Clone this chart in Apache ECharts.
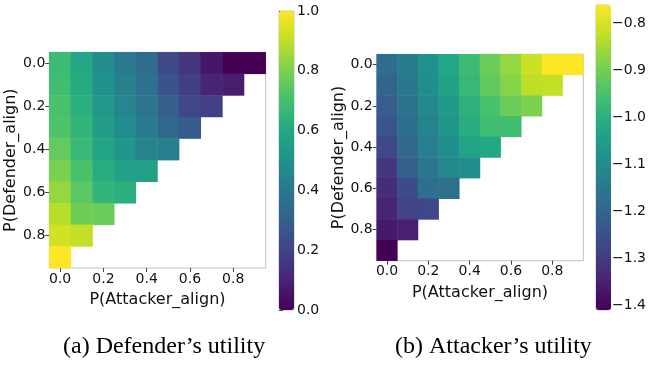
<!DOCTYPE html>
<html>
<head>
<meta charset="utf-8">
<script src="https://cdn.jsdelivr.net/npm/echarts@6/dist/echarts.min.js"></script>
<style>
  html, body { margin: 0; padding: 0; background: #fff; }
  #main { width: 649px; height: 369px; }
</style>
</head>
<body>
<div id="main"></div>
<script>
// axis categories (P = 0.0 .. 0.9)
const attackerAlign = ['0.0', '0.1', '0.2', '0.3', '0.4', '0.5', '0.6', '0.7', '0.8', '0.9']
const defenderAlign = ['0.0', '0.1', '0.2', '0.3', '0.4', '0.5', '0.6', '0.7', '0.8', '0.9']

// defender's utility, one row per P(Defender_align), cells along P(Attacker_align)
const defenderUtility = [
  [0.68, 0.60, 0.48, 0.41, 0.35, 0.22, 0.15, 0.06, 0.00, 0.00],
  [0.69, 0.61, 0.50, 0.43, 0.37, 0.25, 0.18, 0.10, 0.08],
  [0.71, 0.63, 0.53, 0.46, 0.39, 0.30, 0.21, 0.19],
  [0.72, 0.65, 0.55, 0.48, 0.41, 0.33, 0.29],
  [0.76, 0.67, 0.58, 0.52, 0.44, 0.43],
  [0.80, 0.71, 0.62, 0.57, 0.56],
  [0.84, 0.74, 0.65, 0.63],
  [0.89, 0.78, 0.77],
  [0.93, 0.91],
  [1.00]
]

// attacker's utility
const attackerUtility = [
  [-1.183, -1.144, -1.086, -1.021, -0.970, -0.910, -0.866, -0.814, -0.762, -0.762],
  [-1.200, -1.150, -1.100, -1.040, -0.980, -0.920, -0.880, -0.827, -0.820],
  [-1.220, -1.164, -1.110, -1.060, -0.995, -0.950, -0.910, -0.890],
  [-1.240, -1.177, -1.125, -1.073, -1.008, -0.963, -0.963],
  [-1.274, -1.190, -1.138, -1.093, -1.034, -1.020],
  [-1.306, -1.216, -1.157, -1.110, -1.099],
  [-1.326, -1.260, -1.177, -1.170],
  [-1.345, -1.280, -1.274],
  [-1.365, -1.352],
  [-1.410]
]

const defTicks = [0.0, 0.2, 0.4, 0.6, 0.8, 1.0]
const attTicks = [-1.4, -1.3, -1.2, -1.1, -1.0, -0.9, -0.8]
const defRange = [0, 1]
const attRange = [-1.41, -0.762]

const viridis = ['#440154', '#482475', '#414487', '#355f8d', '#2a788e', '#21918c',
  '#22a884', '#44bf70', '#7ad151', '#bddf26', '#fde725']

function toCells (rows) {
  const out = []
  rows.forEach((row, y) => {
    row.forEach((v, x) => out.push([x, y, v]))
  })
  return out
}

const fmtMinus = v => (v < 0 ? '\u2212' + Math.abs(v).toFixed(1) : v.toFixed(1))

const tickFont = { fontFamily: 'DejaVu Sans', fontSize: 14, color: '#111' }
const nameFont = { fontFamily: 'DejaVu Sans', fontSize: 16, color: '#111' }

function catAxis (data, extra) {
  return Object.assign({
    type: 'category',
    data: data,
    axisLine: { show: false },
    axisTick: { show: true, alignWithLabel: true, interval: 1, length: 4, lineStyle: { color: '#444' } },
    axisLabel: Object.assign({ interval: 1, margin: 4 }, tickFont),
    splitLine: { show: false },
    nameLocation: 'middle',
    nameTextStyle: nameFont
  }, extra)
}

function barAxis (range, ticks, gridIndex) {
  return {
    type: 'value',
    gridIndex: gridIndex,
    position: 'right',
    min: range[0],
    max: range[1],
    axisLine: { show: false },
    splitLine: { show: false },
    axisTick: { show: true, length: 4, customValues: ticks, lineStyle: { color: '#444' } },
    axisLabel: Object.assign({ customValues: ticks, margin: 3, formatter: fmtMinus }, tickFont)
  }
}

const gridLeft = { left: 49.3, top: 52.3, width: 216.4, height: 215.7 }
const gridRight = { left: 376.7, top: 54.3, width: 206.6, height: 206.4 }
const cbLeft = { left: 279, top: 11, width: 15, height: 299 }
const cbRight = { left: 596, top: 5, width: 15, height: 305 }

const frame = { show: true, borderColor: '#c0c0c0', borderWidth: 1, backgroundColor: 'transparent' }

const option = {
  animation: false,
  grid: [
    Object.assign({}, gridLeft, frame),
    Object.assign({}, gridRight, frame),
    Object.assign({}, cbLeft, frame),
    Object.assign({}, cbRight, frame)
  ],
  xAxis: [
    catAxis(attackerAlign, { gridIndex: 0, name: 'P(Attacker_align)', nameGap: 24 }),
    catAxis(attackerAlign, { gridIndex: 1, name: 'P(Attacker_align)', nameGap: 24 }),
    { type: 'value', gridIndex: 2, show: false, min: 0, max: 1 },
    { type: 'value', gridIndex: 3, show: false, min: 0, max: 1 }
  ],
  yAxis: [
    catAxis(defenderAlign, { gridIndex: 0, inverse: true, name: 'P(Defender_align)', nameGap: 26 }),
    catAxis(defenderAlign, { gridIndex: 1, inverse: true, name: 'P(Defender_align)', nameGap: 26 }),
    barAxis(defRange, defTicks, 2),
    barAxis(attRange, attTicks, 3)
  ],
  visualMap: [
    {
      type: 'continuous',
      seriesIndex: 0,
      min: defRange[0],
      max: defRange[1],
      calculable: false,
      hoverLink: false,
      padding: 0,
      left: cbLeft.left,
      top: cbLeft.top,
      itemWidth: cbLeft.width,
      itemHeight: cbLeft.height,
      text: null,
      inRange: { color: viridis }
    },
    {
      type: 'continuous',
      seriesIndex: 1,
      min: attRange[0],
      max: attRange[1],
      calculable: false,
      hoverLink: false,
      padding: 0,
      left: cbRight.left,
      top: cbRight.top,
      itemWidth: cbRight.width,
      itemHeight: cbRight.height,
      text: null,
      inRange: { color: viridis }
    }
  ],
  graphic: [
    {
      type: 'text',
      left: 63, top: 335,
      style: { text: '(a) Defender\u2019s utility', font: '24px "Liberation Serif"', fill: '#000' }
    },
    {
      type: 'text',
      left: 395, top: 335,
      style: { text: '(b) Attacker\u2019s utility', font: '24px "Liberation Serif"', fill: '#000' }
    }
  ],
  series: [
    {
      type: 'heatmap',
      xAxisIndex: 0,
      yAxisIndex: 0,
      data: toCells(defenderUtility),
      emphasis: { disabled: true }
    },
    {
      type: 'heatmap',
      xAxisIndex: 1,
      yAxisIndex: 1,
      data: toCells(attackerUtility),
      emphasis: { disabled: true }
    }
  ]
}

const chart = echarts.init(document.getElementById('main'))
chart.setOption(option)
window.addEventListener('resize', () => {
  chart.resize()
})
</script>
</body>
</html>
